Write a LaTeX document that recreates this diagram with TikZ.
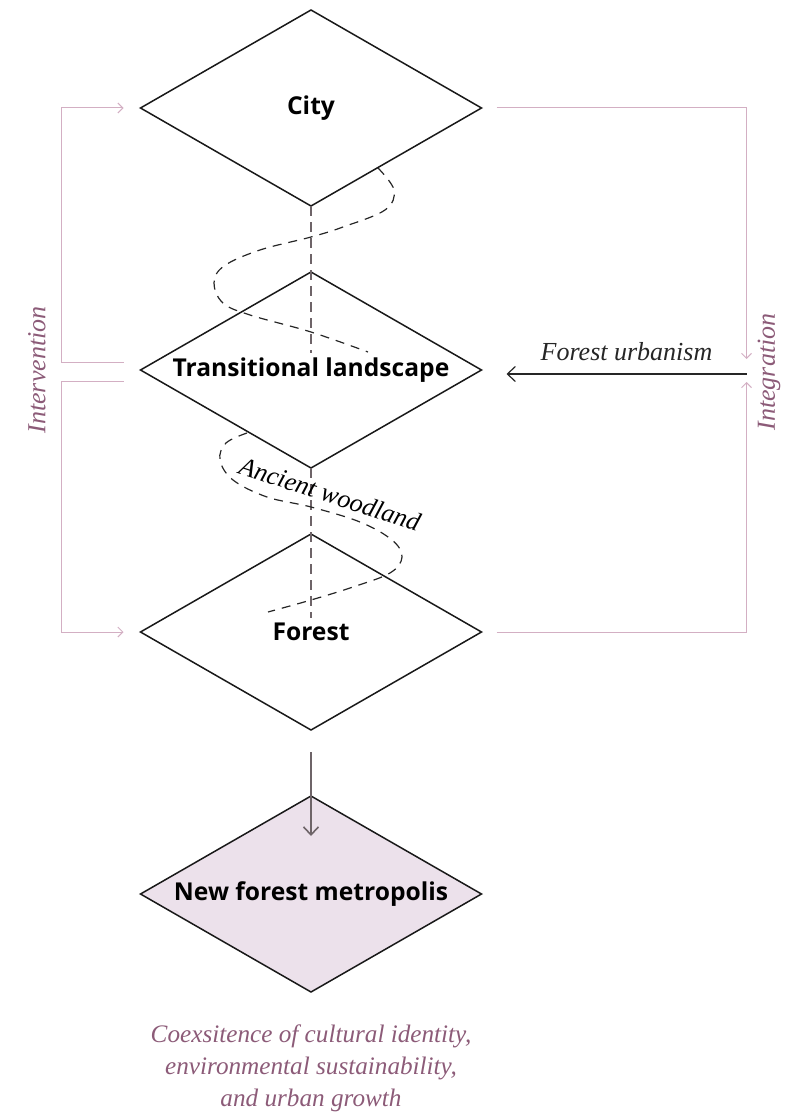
\documentclass[tikz,border=0pt]{standalone}
\usepackage{fontspec}
\setmainfont{Liberation Serif}
\newfontfamily\stagefont{Open Sans}
\usetikzlibrary{arrows.meta, positioning, shapes.geometric}
\definecolor{mauve}{HTML}{8C5B78}
\definecolor{rosy}{HTML}{D3AFC3}
\definecolor{blush}{HTML}{ECE1EB}
\definecolor{spinegray}{HTML}{6E6468}

\begin{document}
\begin{tikzpicture}[x=0.5pt, y=0.5pt, node distance=33pt]
  \tikzstyle{stage} = [draw=black!90, line width=0.75pt, shape=diamond,
    aspect=1.74, minimum width=170.5pt, minimum height=98pt, inner sep=0pt,
    outer sep=0pt, font=\stagefont\bfseries\fontsize{12.3}{14}\selectfont]
  \tikzstyle{note} = [font=\itshape\fontsize{13}{16}\selectfont]
  \tikzstyle{bracket} = [draw=rosy, line width=0.5pt,
    -{Straight Barb[length=2.5pt, width=5pt]}]
  \tikzstyle{winding} = [black!85, line width=0.6pt,
    dash pattern=on 4.5pt off 3.5pt]
  \tikzstyle{spine} = [spinegray, line width=0.8pt, dash pattern=on 5pt off 3pt]
  \useasboundingbox (0,0) rectangle (795,-1113);
  \node [stage] at (311,-108) (city) {City};
  \node [stage, below=of city] (trans) {Transitional landscape};
  \node [stage, below=of trans] (forest) {Forest};
  \node [stage, fill=blush, below=of forest] (metro) {New forest metropolis};
  \draw[spine] (city.south) -- ([yshift=8.5pt]trans.center);
  \draw[spine] (trans.south) -- ([yshift=7pt]forest.center);
  \draw[winding] plot[smooth, tension=0.6] coordinates {(378,-168) (394,-190)
    (385,-210) (343,-227) (311,-237) (260,-250) (224,-266) (214,-283)
    (223,-303) (250,-315) (311,-332) (368,-352)};
  \draw[winding] plot[smooth, tension=0.6] coordinates {(247,-433) (226,-443)
    (220,-460) (233,-480) (267,-497) (311,-507) (360,-522) (392,-540)
    (402,-557) (390,-573) (353,-587) (311,-600) (268,-612)};
  \node [note, rotate=-18] at (330,-494) (woodland) {Ancient woodland};
  \draw[bracket] ([shift={(-17,8)}]trans.west) -- ++(-62,0)
    |- ([shift={(-17,0)}]city.west);
  \draw[bracket] ([shift={(-17,-11)}]trans.west) -- ++(-62,0)
    |- ([shift={(-17,0)}]forest.west);
  \draw[bracket] ([shift={(15,0)}]city.east) -| ([shift={(265,11)}]trans.east);
  \draw[bracket] ([shift={(15,0)}]forest.east) -| ([shift={(265,-12)}]trans.east);
  \draw[black!85, line width=0.6pt, -{Straight Barb[length=4pt, width=7.5pt]}]
    ([shift={(265,-4)}]trans.east) -- ([shift={(25,-4)}]trans.east)
    node [note, midway, above=3pt] (urbanism) {Forest urbanism};
  \node [note, text=mauve, rotate=90] at (37,-370) (intervention) {Intervention};
  \node [note, text=mauve, rotate=90] at (769,-372) (integration) {Integration};
  \draw[spinegray, line width=0.8pt, -{Straight Barb[length=4pt, width=7.5pt]}]
    ([yshift=-11pt]forest.south) -- ([yshift=-20pt]metro.north);
  \node [note, text=mauve, align=center, font=\itshape\fontsize{12.6}{16}\selectfont]
    at (311,-1068) (outcome) {Coexsitence of cultural identity,\\
    environmental sustainability,\\ and urban growth};
\end{tikzpicture}
\end{document}
